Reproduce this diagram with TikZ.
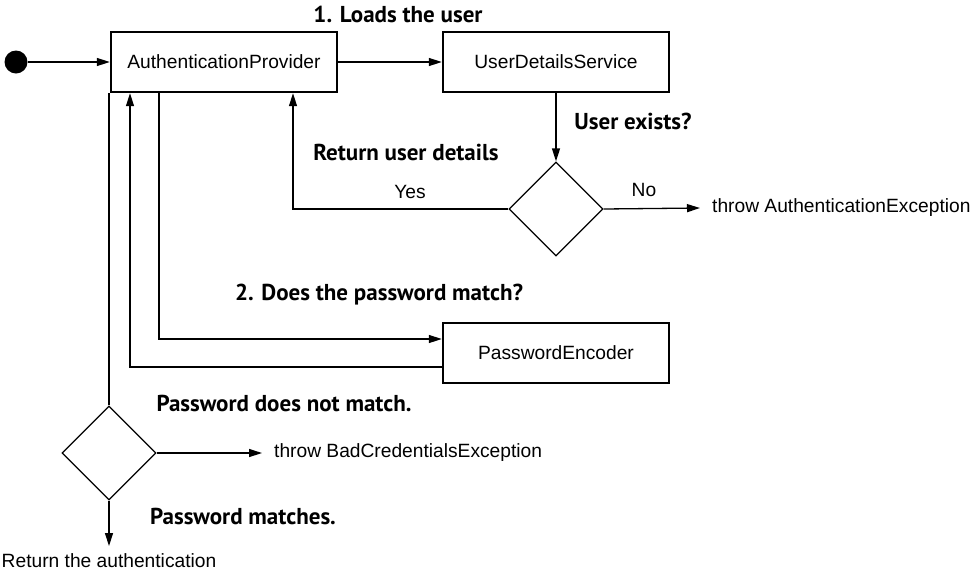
\documentclass[tikz,border=0pt]{standalone}
\usepackage{fontspec}
\setmainfont{Liberation Sans}
\newfontfamily\notefont{PT Sans}
\usetikzlibrary{arrows.meta,shapes.geometric}

\newcommand*{\boxfont}{\fontsize{19.2}{23}\selectfont}
\newcommand*{\notesize}{\fontsize{23}{27}\selectfont}

\begin{document}
\begin{tikzpicture}
[
	x=1pt,y=-1pt,
	comp/.style={draw,line width=2.4pt,minimum width=226pt,minimum height=60pt,inner sep=0pt,font=\boxfont},
	choice/.style={diamond,draw,line width=1.3pt,aspect=1,minimum width=94pt,minimum height=94pt,inner sep=0pt},
	flow/.style={line width=1.3pt,-{Triangle[length=13pt,width=8pt]}},
	link/.style={line width=1.3pt},
	note/.style={font=\notefont\bfseries\notesize,inner sep=0pt},
	txt/.style={font=\boxfont,inner sep=0pt},
	exc/.style={font=\boxfont,inner ysep=0pt,inner xsep=12pt,anchor=west}
]
	\useasboundingbox (0,0) rectangle (973,574);

	% components
	\node[circle,fill,inner sep=0pt,minimum size=23pt] (start) at (16,62) {};
	\node[comp] (prov) at (224,62) {AuthenticationProvider};
	\node[comp] (uds) at (556,62) {UserDetailsService};
	\node[comp] (enc) at (556,353) {PasswordEncoder};
	\node[choice] (exists) at (556,209) {};
	\node[choice] (match) at (109,453) {};

	% outcomes
	\node[exc] (authexc) at (700,208) {throw AuthenticationException};
	\node[exc] (badexc) at (262,453) {throw BadCredentialsException};
	\node[txt,anchor=north,inner ysep=7pt] (retauth) at (109,546) {Return the authentication};

	% load the user
	\draw[flow] (start) -- (prov);
	\draw[flow] (prov) -- (uds);
	\draw[flow] (uds) -- (exists);
	\draw[flow] (exists.west) -| ([xshift=69pt]prov.south);
	\draw[flow] (exists.east) -- (authexc.west);

	% check the password
	\draw[flow] ([xshift=-65pt]prov.south) |- ([yshift=14pt]enc.west);
	\draw[flow] ([yshift=-14pt]enc.west) -| ([xshift=-94pt]prov.south);
	\draw[link] (match.north) -- (match.north |- prov.south);
	\draw[flow] (match.east) -- (badexc.west);
	\draw[flow] (match.south) -- (retauth.north);

	% labels
	\node[note] (loads) at (398,14) {1. Loads the user};
	\node[note] (details) at (406,152) {Return user details};
	\node[note] (existq) at (633,121) {User exists?};
	\node[note] (pwq) at (379,295) {2. Does the password match?};
	\node[note] (nomatch) at (284,403) {Password does not match.};
	\node[note] (matches) at (243,516) {Password matches.};
	\node[txt] (yes) at (410,192) {Yes};
	\node[txt] (no) at (644,190) {No};

\end{tikzpicture}
\end{document}
